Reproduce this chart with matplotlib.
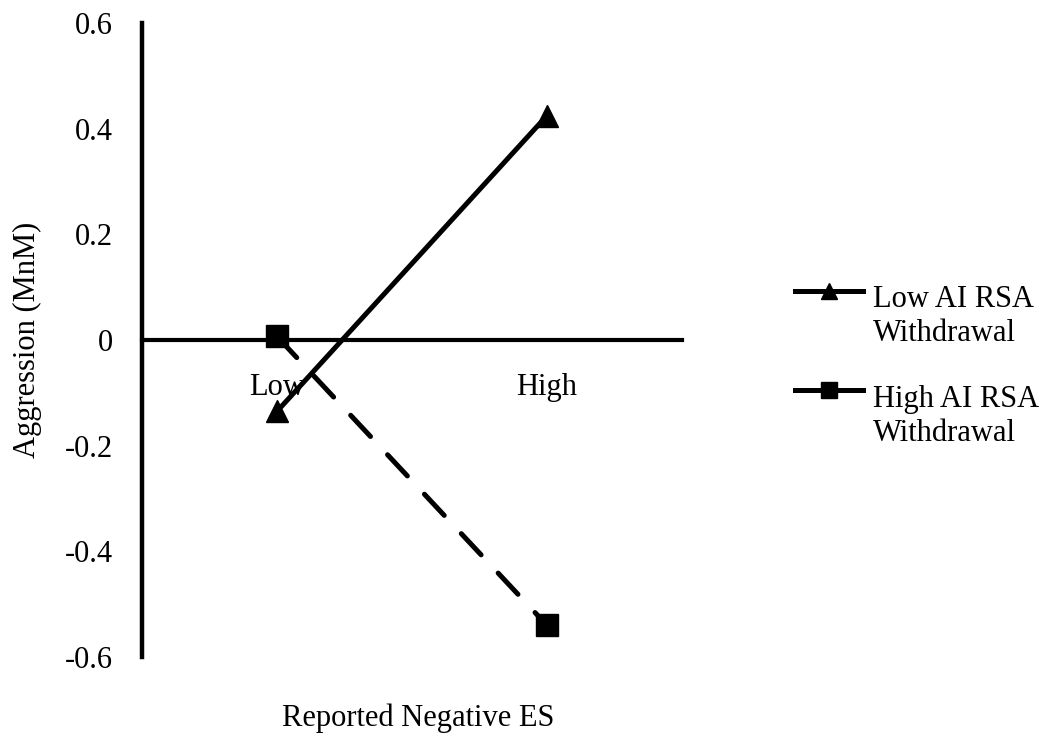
import matplotlib
matplotlib.use("Agg")
import matplotlib.pyplot as plt
from matplotlib.lines import Line2D

# ---- DATA ----
categories = ["Low", "High"]
low_ai_rsa = [-0.135, 0.425]
high_ai_rsa = [0.007, -0.54]
series_names = ["Low AI RSA\nWithdrawal", "High AI RSA\nWithdrawal"]
y_ticks = [-0.6, -0.4, -0.2, 0, 0.2, 0.4, 0.6]
y_tick_labels = ["-0.6", "-0.4", "-0.2", "0", "0.2", "0.4", "0.6"]

# ---- STYLE ----
plt.rcParams['font.family'] = ['Liberation Serif', 'DejaVu Serif']
FS = 22
LW = 3.6

fig = plt.figure(figsize=(10.51, 7.45), dpi=100)
ax = fig.add_axes([0.135, 0.118, 0.514, 0.851])

x = list(range(len(categories)))

ax.plot(x, low_ai_rsa, color='black', linewidth=LW, marker='^',
        markersize=16, solid_capstyle='round', zorder=3)
ax.plot(x, high_ai_rsa, color='black', linewidth=LW, marker='s',
        markersize=16, linestyle=(0, (5.8, 5.0)), dash_capstyle='round',
        zorder=3)

# ---- AXES ----
ax.set_xlim(-0.5, 1.5)
ax.set_ylim(-0.6, 0.6)
ax.set_yticks(y_ticks)
ax.set_yticklabels(y_tick_labels)
ax.set_xticks(x)
ax.set_xticklabels(categories)

for side in ['top', 'right']:
    ax.spines[side].set_visible(False)
ax.spines['left'].set_linewidth(3.2)
ax.spines['bottom'].set_position(('data', 0))
ax.spines['bottom'].set_linewidth(3.0)
ax.spines['bottom'].set_zorder(1)

ax.tick_params(axis='y', length=0, pad=21, labelsize=FS)
ax.tick_params(axis='x', length=0, pad=24, labelsize=FS)

ax.set_ylabel("Aggression (MnM)", fontsize=FS, labelpad=16)
fig.text(0.398, 0.036, "Reported Negative ES", fontsize=FS,
         ha='center', va='center')

# ---- LEGEND (handle sits on first text line) ----
legend_rows = [
    (series_names[0], '^', 0.577, 0.537),
    (series_names[1], 's', 0.421, 0.379),
]
for name, mk, hy, ty in legend_rows:
    ax.add_line(Line2D([1.209, 1.335], [hy, hy], transform=ax.transAxes,
                       color='black', linewidth=LW, linestyle='-',
                       clip_on=False))
    ax.add_line(Line2D([1.272], [hy], transform=ax.transAxes,
                       color='black', marker=mk, markersize=11,
                       linestyle='none', clip_on=False))
    ax.text(1.354, ty, name, transform=ax.transAxes, fontsize=FS,
            ha='left', va='center', linespacing=1.22)

fig.savefig("out.png", dpi=100)
